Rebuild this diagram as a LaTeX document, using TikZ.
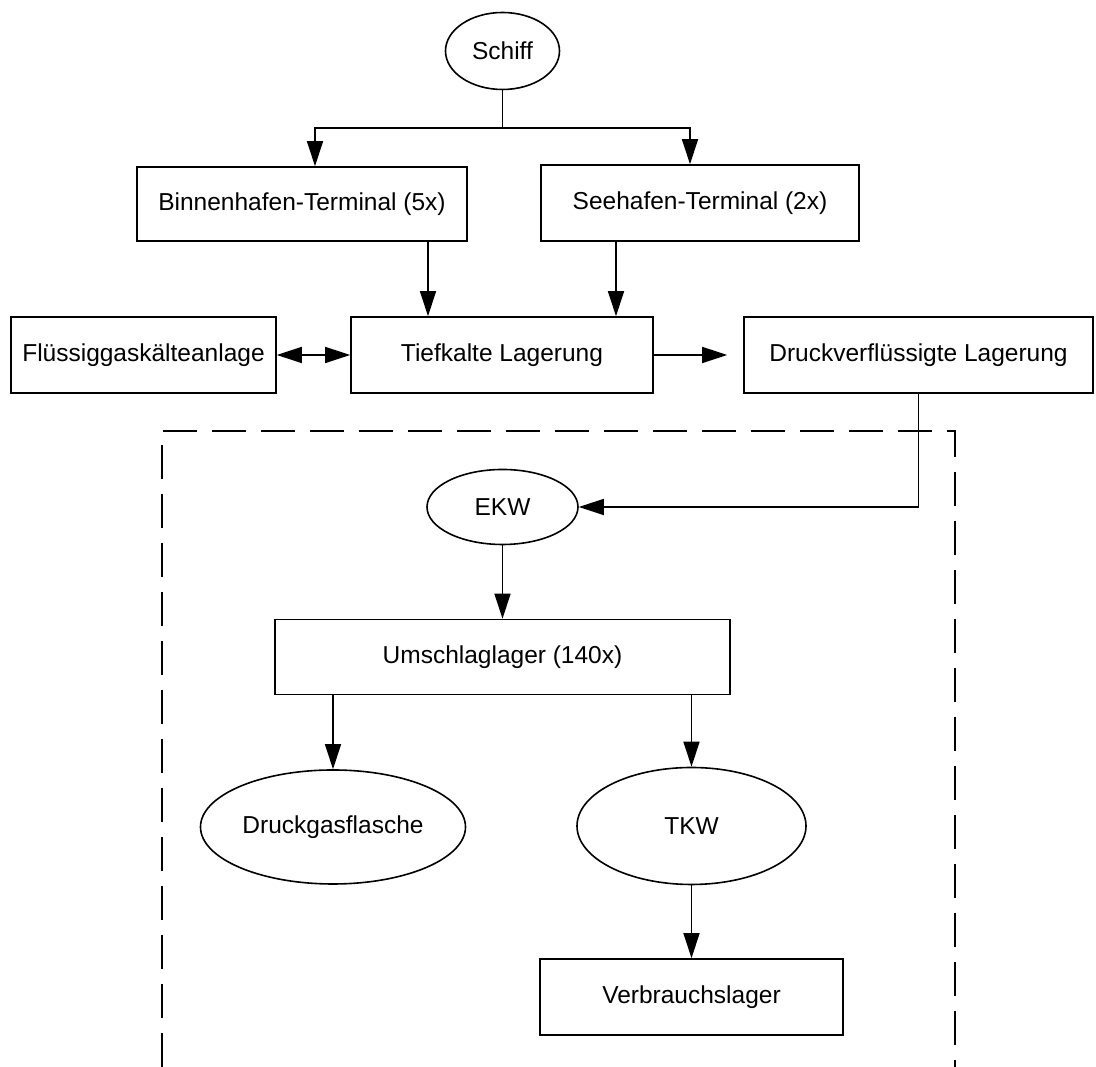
\documentclass[tikz,border=0pt]{standalone}
\usepackage{fontspec}
\setmainfont{Liberation Sans}
\usepackage{tikz}
\usetikzlibrary{arrows.meta}
\usetikzlibrary{calc}
\usetikzlibrary{shapes}

\begin{document}
\begin{tikzpicture}[x=1pt, y=1pt, shorten >=0pt, line width=1.6pt,
        >={Triangle[length=25pt,width=16pt]},
        box_style/.style={rectangle,draw=black,inner sep=0pt,font=\fontsize{24.5}{29}\selectfont},
        oval_style/.style={ellipse,draw=black,inner sep=0pt,font=\fontsize{24.5}{29}\selectfont},
        edge_style/.style={draw=black, line width=1.6pt,->},
        line_style/.style={draw=black, line width=1.6pt},
        frame_style/.style={draw=black, line width=1.6pt, dash pattern=on 34pt off 15pt}]

        \useasboundingbox (0,0) rectangle (1096,1067);

        \node [oval_style, minimum width=114, minimum height=77](schiff) at (502.5,1016) {Schiff};

        \node [box_style, minimum width=330, minimum height=74](binnen) at (302,863) {Binnenhafen-Terminal (5x)};

        \node [box_style, minimum width=318, minimum height=76](seehafen) at (700,864) {Seehafen-Terminal (2x)};

        \node [box_style, minimum width=302, minimum height=76](tief) at (502,712) {Tiefkalte Lagerung};

        \node [box_style, minimum width=265, minimum height=76](fluessig) at (143.5,712) {Flüssiggaskälteanlage};

        \node [box_style, minimum width=349, minimum height=76](druck) at (918.5,712) {Druckverflüssigte Lagerung};

        \node [oval_style, minimum width=151, minimum height=75](ekw) at (502.5,560) {EKW};

        \node [box_style, minimum width=455, minimum height=75](umschlag) at (502.5,410) {Umschlaglager (140x)};

        \node [oval_style, minimum width=265, minimum height=114](druckgas) at (333,240) {Druckgasflasche};

        \node [oval_style, minimum width=229, minimum height=117](tkw) at (691.5,241) {TKW};

        \node [box_style, minimum width=303, minimum height=76](verbrauch) at (691.5,70) {Verbrauchslager};

        \coordinate (split) at (502.5,939);

        % dashed frame
        \draw [frame_style] (162,0) -- (162,636) -- (955,636) -- (955,0);

        \draw [line_style] (schiff) -- (split);

        \draw [edge_style] (split) -| (binnen.north -| 315,0);

        \draw [edge_style] (split) -| (seehafen.north -| 690,0);

        \draw [edge_style] (binnen.south -| 428,0) -- (tief.north -| 428,0);

        \draw [edge_style] (seehafen.south -| 616,0) -- (tief.north -| 616,0);

        \draw [edge_style, <->] (fluessig) -- (tief);

        \draw [edge_style, shorten >=16pt] (tief) -- (druck);

        \draw [edge_style] (druck.south) |- (ekw.east);

        \draw [edge_style] (ekw) -- (umschlag);

        \draw [edge_style] (umschlag.south -| druckgas.north) -- (druckgas.north);

        \draw [edge_style] (umschlag.south -| tkw.north) -- (tkw.north);

        \draw [edge_style] (tkw) -- (verbrauch);

\end{tikzpicture}
\end{document}
